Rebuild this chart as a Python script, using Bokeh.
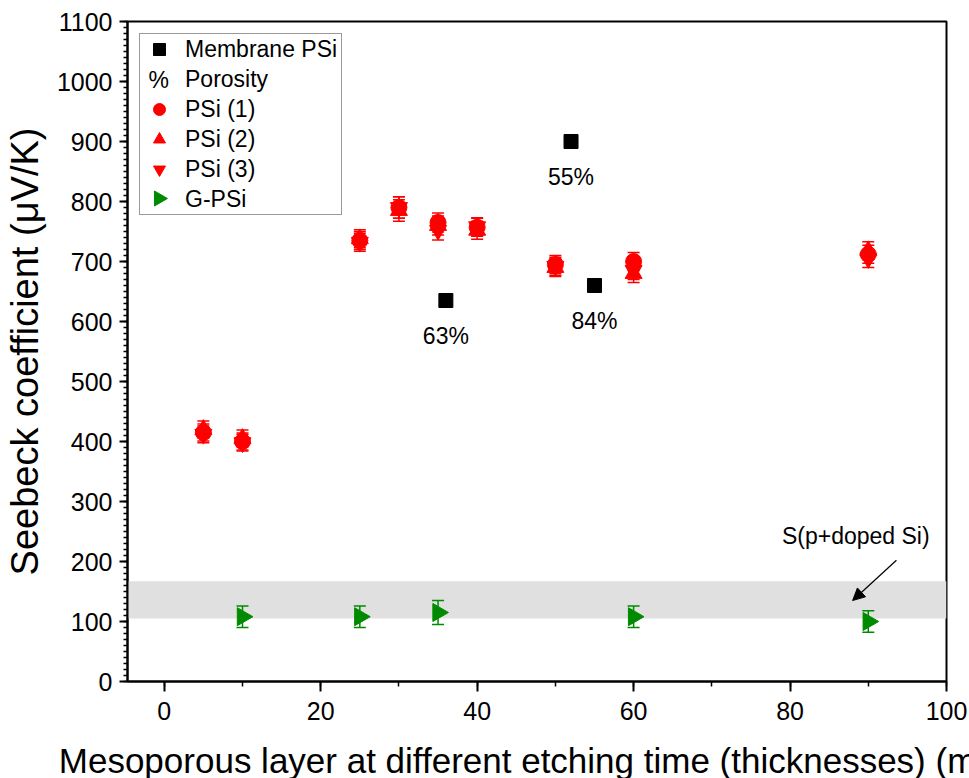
from bokeh.plotting import figure
from bokeh.models import (ColumnDataSource, Whisker, TeeHead, BoxAnnotation, Arrow,
                          NormalHead, Label, Legend, LegendItem, SingleIntervalTicker, Range1d)
from bokeh.embed import file_html
from bokeh.resources import INLINE
from bokeh.core.properties import value

# ---------------- data ----------------
x_psi = [5, 10, 25, 30, 35, 40, 50, 60, 90]
psi1 = [415, 400, 735, 790, 765, 757, 695, 700, 712]
psi2 = [420, 405, 738, 785, 760, 752, 690, 680, 718]
psi3 = [412, 398, 732, 790, 752, 758, 692, 685, 705]
psi_err = [14, 14, 15, 18, 16, 15, 15, 15, 15]

x_g = [10, 25, 35, 60, 90]
g_psi = [108, 108, 115, 108, 100]
g_err = [18, 18, 20, 18, 18]

x_mem = [36, 52, 55]
y_mem = [635, 900, 660]
porosity_labels = ["63%", "55%", "84%"]

band_low, band_high = 105, 167
note_text = "S(p+doped Si)"
note_x, note_y = 88.4, 243
arrow_x0, arrow_y0, arrow_x1, arrow_y1 = 93.6, 202, 88.0, 135

# legend swatches drawn in the legend's glyph column ("%" and the right-pointing triangle)
pct_symbol = ["%"]
pct_x, pct_y = [-0.7], [1003]
gpsi_key_x, gpsi_key_y = [-0.7], [805]

x_ticks_interval = 20
y_ticks_interval = 100

FONT = "Liberation Sans"
RED = "#ff0000"
GREEN = "#008a00"

p = figure(frame_width=819, frame_height=660,
           x_range=Range1d(-4.7, 100), y_range=Range1d(0, 1100),
           output_backend="svg", toolbar_location=None,
           min_border_left=127, min_border_right=23, min_border_top=21, min_border_bottom=97)
p.grid.visible = False
p.outline_line_color = "black"
p.outline_line_width = 2

# band
p.add_layout(BoxAnnotation(bottom=band_low, top=band_high, fill_color="#e0e0e0", fill_alpha=1.0,
                           line_alpha=0, level="underlay"))

def add_err(xs, ys, errs, color):
    src = ColumnDataSource(dict(x=xs, upper=[a + b for a, b in zip(ys, errs)],
                                lower=[a - b for a, b in zip(ys, errs)]))
    w = Whisker(source=src, base="x", upper="upper", lower="lower", dimension="height",
                line_color=color, line_width=1.5,
                upper_head=TeeHead(size=12, line_color=color, line_width=1.5),
                lower_head=TeeHead(size=12, line_color=color, line_width=1.5))
    p.add_layout(w)

add_err(x_psi, psi1, psi_err, RED)
add_err(x_psi, psi2, psi_err, RED)
add_err(x_psi, psi3, psi_err, RED)
add_err(x_g, g_psi, g_err, GREEN)

r_mem = p.scatter(x_mem, y_mem, marker="square", size=14, fill_color="black", line_color="black")
r_dummy = p.scatter([], [], marker="circle", size=1, fill_alpha=0, line_alpha=0)
r1 = p.scatter(x_psi, psi1, marker="circle", size=16, fill_color=RED, line_color=RED)
r2 = p.scatter(x_psi, psi2, marker="triangle", size=17, fill_color=RED, line_color=RED)
r3 = p.scatter(x_psi, psi3, marker="inverted_triangle", size=17, fill_color=RED, line_color=RED)
rg = p.scatter(x_g, g_psi, marker="triangle", angle=-1.5708, size=18, fill_color=GREEN, line_color=GREEN)

# porosity labels
lab_src = ColumnDataSource(dict(x=x_mem, y=y_mem, t=porosity_labels))
p.text(x="x", y="y", text="t", source=lab_src, text_align="center", text_baseline="middle",
       y_offset=35, text_font=value(FONT), text_font_size="23px", text_color="black")

p.add_layout(Label(x=note_x, y=note_y, text=note_text, text_align="center", text_baseline="middle",
                   text_font=FONT, text_font_size="23px", text_color="black"))
p.add_layout(Arrow(x_start=arrow_x0, y_start=arrow_y0, x_end=arrow_x1, y_end=arrow_y1,
                   line_color="black", line_width=1.2,
                   end=NormalHead(size=12, fill_color="black", line_color="black")))

# axes
p.xaxis.ticker = SingleIntervalTicker(interval=x_ticks_interval, num_minor_ticks=2)
p.yaxis.ticker = SingleIntervalTicker(interval=y_ticks_interval, num_minor_ticks=10)
for ax in (p.xaxis[0], p.yaxis[0]):
    ax.axis_line_width = 2
    ax.major_tick_line_width = 2
    ax.minor_tick_line_width = 1.5
    ax.major_tick_in = 0
    ax.minor_tick_in = 0
    ax.major_label_text_font = FONT
    ax.major_label_text_font_size = "25px"
    ax.major_label_text_color = "black"
    ax.axis_label_text_font = FONT
    ax.axis_label_text_font_style = "normal"
    ax.axis_label_text_color = "black"
p.xaxis.axis_label_text_font_size = "35px"
p.yaxis.axis_label_text_font_size = "38px"
p.xaxis.major_tick_out = 10
p.xaxis.minor_tick_out = 5
p.yaxis.major_tick_out = 8
p.yaxis.minor_tick_out = 4
p.xaxis.major_label_standoff = 10
p.yaxis.major_label_standoff = 7
p.xaxis.axis_label_standoff = 18
p.yaxis.axis_label_standoff = 8
p.xaxis.axis_label = "Mesoporous layer at different etching time (thicknesses) (min)"
p.yaxis.axis_label = "Seebeck coefficient (\u03bcV/K)"

# legend swatches beneath a transparent legend
pct_src = ColumnDataSource(dict(x=pct_x, y=pct_y, t=pct_symbol))
p.text(x="x", y="y", text="t", source=pct_src, text_align="center", text_baseline="middle",
       text_font=value(FONT), text_font_size="23px", text_color="black")
p.scatter(gpsi_key_x, gpsi_key_y, marker="triangle", angle=-1.5708, size=15,
          fill_color=GREEN, line_color=GREEN)
r_gdummy = p.scatter([], [], marker="circle", size=1, fill_alpha=0, line_alpha=0)

legend = Legend(items=[
    LegendItem(label="Membrane PSi", renderers=[r_mem]),
    LegendItem(label="Porosity", renderers=[r_dummy]),
    LegendItem(label="PSi (1)", renderers=[r1]),
    LegendItem(label="PSi (2)", renderers=[r2]),
    LegendItem(label="PSi (3)", renderers=[r3]),
    LegendItem(label="G-PSi", renderers=[r_gdummy]),
], location="top_left")
legend.margin = 12
legend.padding = dict(left=4, right=4, top=0, bottom=0)
legend.spacing = 0
legend.glyph_height = 30
legend.glyph_width = 30
legend.label_height = 24
legend.label_standoff = 11
legend.label_text_font = FONT
legend.label_text_font_size = "23px"
legend.label_text_color = "black"
legend.border_line_color = "#333333"
legend.border_line_width = 1.5
legend.background_fill_alpha = 0.0
p.add_layout(legend)

open("out.html", "w").write(file_html(p, INLINE))
